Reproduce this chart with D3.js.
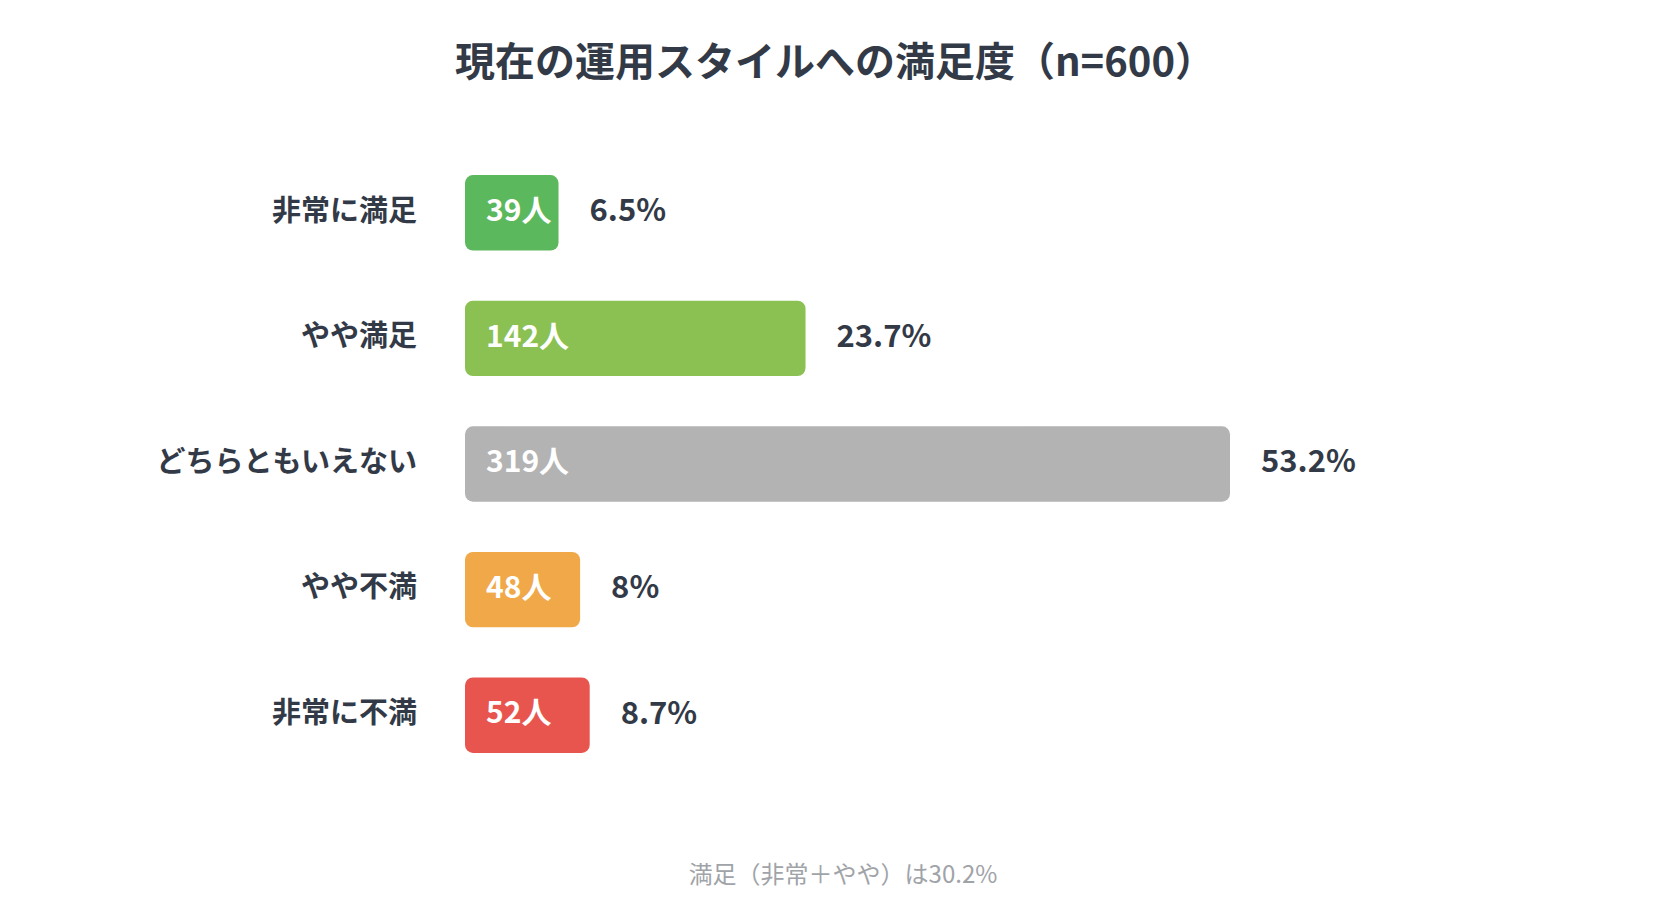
<!DOCTYPE html>
<html><head><meta charset="utf-8">
<script src="https://cdn.jsdelivr.net/npm/d3@7"></script>
<style>body{margin:0;background:#fff;font-family:"Noto Sans CJK JP","Noto Sans",sans-serif;}</style>
</head><body>
<svg id="chart" width="1680" height="900"></svg>
<script>
// データ
const categories = ["非常に満足", "やや満足", "どちらともいえない", "やや不満", "非常に不満"];
const counts = [39, 142, 319, 48, 52];
const percents = ["6.5%", "23.7%", "53.2%", "8%", "8.7%"];
const colors = ["#5cb85c", "#8bc152", "#b3b3b3", "#f0a848", "#e8554e"];

const svg = d3.select("#chart");
const textColor = "#333a47";

svg.append("text")
    .attr("x", 835).attr("y", 65)
    .attr("text-anchor", "middle").attr("dominant-baseline", "middle")
    .attr("font-size", 40).attr("font-weight", "bold").attr("fill", textColor)
    .text("現在の運用スタイルへの満足度（n=600）");

const x = d3.scaleLinear().domain([0, 319]).range([0, 765]);
const y = d3.scaleBand().domain(categories).range([150, 778]).paddingInner(0.4).paddingOuter(0.2);
const left = 465;

const row = svg.selectAll("g.row").data(categories).enter().append("g")
    .attr("transform", d => "translate(0," + y(d) + ")");

row.append("text")
    .attr("x", 417).attr("y", y.bandwidth() / 2)
    .attr("text-anchor", "end").attr("dominant-baseline", "middle")
    .attr("font-size", 29).attr("font-weight", "bold").attr("fill", textColor)
    .text(d => d);

row.append("rect")
    .attr("x", left).attr("y", 0)
    .attr("width", (d, i) => Math.max(x(counts[i]), 92))
    .attr("height", y.bandwidth())
    .attr("rx", 8)
    .attr("fill", (d, i) => colors[i]);

row.append("text")
    .attr("x", left + 21).attr("y", y.bandwidth() / 2)
    .attr("dominant-baseline", "middle")
    .attr("font-size", 30).attr("font-weight", "bold").attr("fill", "#fff")
    .text((d, i) => counts[i] + "人");

row.append("text")
    .attr("x", (d, i) => left + Math.max(x(counts[i]), 92) + 31).attr("y", y.bandwidth() / 2)
    .attr("dominant-baseline", "middle")
    .attr("font-size", 31).attr("font-weight", "bold").attr("fill", textColor)
    .text((d, i) => percents[i]);

svg.append("text")
    .attr("x", 843).attr("y", 876)
    .attr("text-anchor", "middle").attr("dominant-baseline", "middle")
    .attr("font-size", 24).attr("fill", "#a0a3a8")
    .text("満足（非常＋やや）は30.2%");
</script>
</body></html>
